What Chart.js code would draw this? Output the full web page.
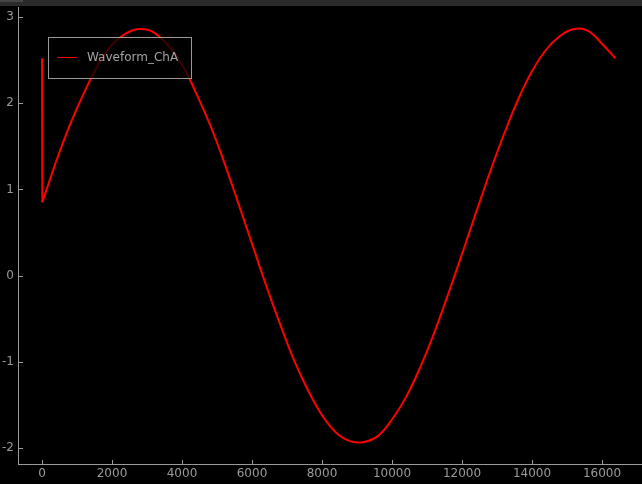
<!DOCTYPE html>
<html>
<head>
<meta charset="utf-8">
<script src="https://cdn.jsdelivr.net/npm/chart.js@4/dist/chart.umd.min.js"></script>
<style>
  html, body { margin: 0; padding: 0; background: #000; overflow: hidden; }
  #bar { height: 6px; background: #2b2b2b; position: relative; }
  #bar i { position: absolute; left: 0; top: 0; width: 23px; height: 2px; background: #454545; }
  #wrap { width: 642px; height: 478px; }
</style>
</head>
<body>
<div id="bar"><i></i></div>
<div id="wrap"><canvas id="c" width="642" height="478" style="width:642px;height:478px"></canvas></div>
<script>
// sample index and amplitude
const sampleIdx = [0, 10, 400, 800, 1200, 1600, 2000, 2400, 2800, 3200, 3600, 4000,
  4400, 4800, 5200, 5600, 6000, 6400, 6800, 7200, 7600, 8000, 8400, 8800, 9200,
  9600, 10000, 10400, 10800, 11200, 11600, 12000, 12400, 12800, 13200, 13600,
  14000, 14400, 14800, 15200, 15600, 16000, 16383];
const waveA = [2.52, 0.85, 1.32, 1.75, 2.12, 2.44, 2.68, 2.81, 2.86, 2.82, 2.67, 2.45,
  2.12, 1.75, 1.32, 0.85, 0.37, -0.11, -0.56, -0.98, -1.33, -1.62, -1.82, -1.92, -1.93,
  -1.86, -1.67, -1.41, -1.07, -0.67, -0.22, 0.25, 0.73, 1.20, 1.64, 2.04,
  2.37, 2.62, 2.78, 2.86, 2.84, 2.69, 2.52];

const xTicks = [0, 2000, 4000, 6000, 8000, 10000, 12000, 14000, 16000];
const yTicks = [-2, -1, 0, 1, 2, 3];
const seriesName = "Waveform_ChA";

const AXIS = "#9a9a9a";
const RED = "#ff0000";

Chart.defaults.font.family = "DejaVu Sans";
Chart.defaults.font.size = 12;

const points = sampleIdx.map((v, i) => ({ x: v, y: waveA[i] }));

// pyqtgraph-ish: ticks point into the plot, legend floats top-left
const overlay = {
  id: "overlay",
  afterDatasetsDraw(chart) {
    const { ctx, chartArea: a, scales: { x, y } } = chart;
    ctx.save();
    ctx.strokeStyle = AXIS;
    ctx.lineWidth = 1;
    ctx.beginPath();
    x.ticks.forEach((t) => {
      const px = Math.round(x.getPixelForValue(t.value)) + 0.5;
      ctx.moveTo(px, a.bottom);
      ctx.lineTo(px, a.bottom - 4);
    });
    y.ticks.forEach((t) => {
      const py = Math.round(y.getPixelForValue(t.value)) + 0.5;
      ctx.moveTo(a.left, py);
      ctx.lineTo(a.left + 5, py);
    });
    ctx.stroke();

    // legend box
    const ds = chart.data.datasets[0];
    ctx.fillStyle = "rgba(0,0,0,0.75)";
    ctx.fillRect(48, 31, 143, 41);
    ctx.strokeStyle = "#999";
    ctx.strokeRect(48.5, 31.5, 143, 41);
    ctx.strokeStyle = ds.borderColor;
    ctx.beginPath();
    ctx.moveTo(57, 51.5);
    ctx.lineTo(77, 51.5);
    ctx.stroke();
    ctx.fillStyle = "#a3a3a3";
    ctx.textBaseline = "middle";
    ctx.fillText(ds.label, 87, 52);
    ctx.restore();
  },
};

function fixWidth(w) {
  return (s) => {
    s.width = w;
    s.paddingTop = s.paddingBottom = s.paddingLeft = s.paddingRight = 0;
  };
}
function fixHeight(h) {
  return (s) => {
    s.height = h;
    s.paddingTop = s.paddingBottom = s.paddingLeft = s.paddingRight = 0;
  };
}

new Chart(document.getElementById("c"), {
  type: "line",
  data: {
    datasets: [
      {
        // main trace, smoothed
        label: seriesName,
        data: points.slice(1),
        borderColor: RED,
        borderWidth: 2,
        pointRadius: 0,
        tension: 0.4,
        fill: false,
      },
      {
        // start-up glitch at sample 0
        label: seriesName,
        data: points.slice(0, 2),
        borderColor: RED,
        borderWidth: 2,
        pointRadius: 0,
        tension: 0,
        fill: false,
      },
    ],
  },
  options: {
    responsive: false,
    animation: false,
    devicePixelRatio: 1,
    layout: { padding: { top: 1, left: 0, right: 0, bottom: 0 } },
    plugins: { legend: { display: false }, tooltip: { enabled: false } },
    scales: {
      x: {
        type: "linear",
        min: -686,
        max: 17143,
        afterBuildTicks: (s) => { s.ticks = xTicks.map((v) => ({ value: v })); },
        afterFit: fixHeight(20),
        grid: { display: false, drawTicks: false },
        border: { display: true, color: AXIS, width: 1 },
        ticks: { color: AXIS, padding: 3, maxRotation: 0, autoSkip: false, callback: (v) => String(v) },
      },
      y: {
        type: "linear",
        min: -2.186,
        max: 3.116,
        afterBuildTicks: (s) => { s.ticks = yTicks.map((v) => ({ value: v })); },
        afterFit: fixWidth(18),
        grid: { display: false, drawTicks: false },
        border: { display: true, color: AXIS, width: 1 },
        ticks: { color: AXIS, padding: 4, autoSkip: false, callback: (v) => String(v) },
      },
    },
  },
  plugins: [overlay],
});
</script>
</body>
</html>
